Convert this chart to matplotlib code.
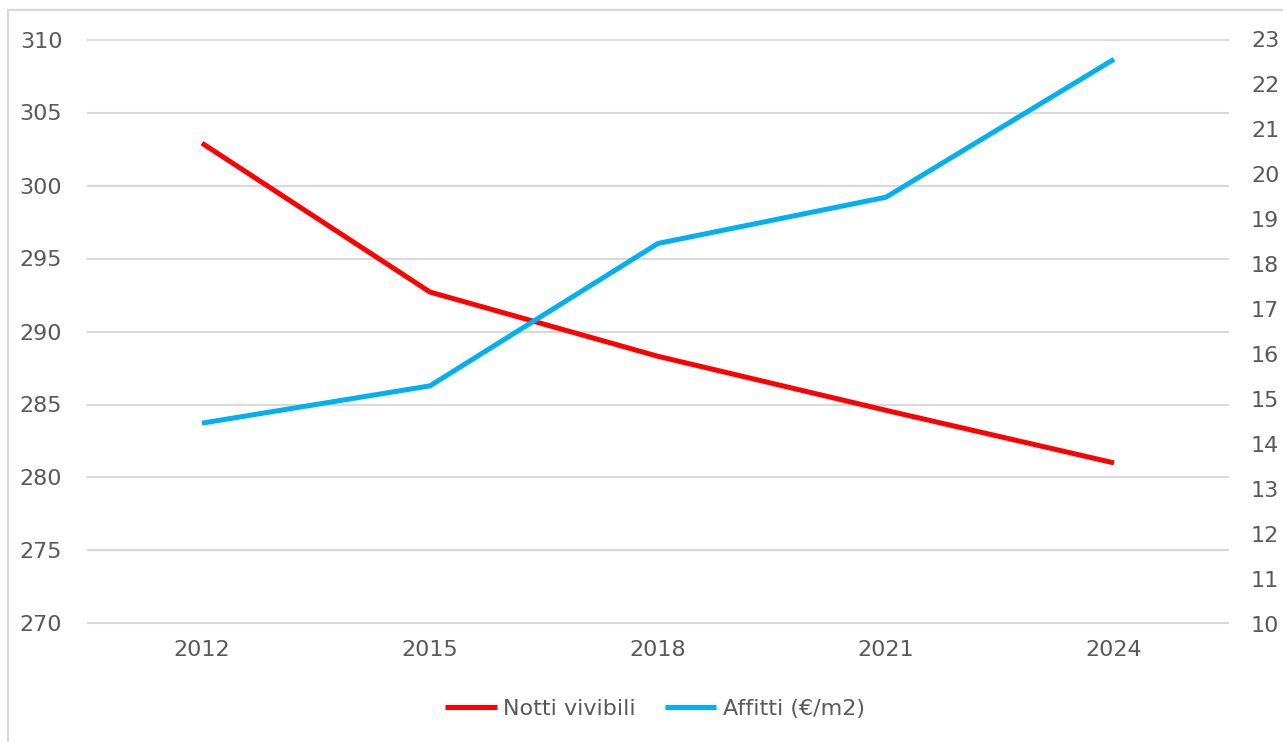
import matplotlib
matplotlib.use("Agg")
import matplotlib.pyplot as plt
from matplotlib.patches import Rectangle

years = ["2012", "2015", "2018", "2021", "2024"]
notti = [302.9, 292.7, 288.3, 284.6, 281.0]
affitti = [14.46, 15.29, 18.46, 19.49, 22.56]

red = "#ff0000"
blue = "#00b0f0"
txt = "#595959"
grid = "#d9d9d9"

plt.rcParams["font.family"] = ["DejaVu Sans"]

fig = plt.figure(figsize=(12.83, 7.42), dpi=100)
ax = fig.add_axes([88 / 1283, 1 - 623.5 / 742, (1228 - 88) / 1283, (623.5 - 39.5) / 742])
ax2 = ax.twinx()

x = range(len(years))
l1, = ax.plot(x, notti, color=red, lw=3.6, solid_capstyle="butt", label="Notti vivibili")
l2, = ax2.plot(x, affitti, color=blue, lw=3.6, solid_capstyle="butt", label="Affitti (€/m2)")

ax.set_xlim(-0.5, len(years) - 0.5)
ax.set_ylim(270, 310)
ax.set_yticks(range(270, 311, 5))
ax2.set_ylim(10, 23)
ax2.set_yticks(range(10, 24))
ax.set_xticks(list(x))
ax.set_xticklabels(years)

ax.grid(axis="y", color=grid, lw=1.5)
ax.set_axisbelow(True)
for gl in ax.get_ygridlines():
    gl.set_clip_on(False)
for a in (ax, ax2):
    for s in a.spines.values():
        s.set_visible(False)
ax.tick_params(axis="y", length=0, pad=18.5, labelsize=16, labelcolor=txt)
ax.tick_params(axis="x", length=0, pad=12, labelsize=16, labelcolor=txt)
ax2.tick_params(axis="y", length=0, pad=16.5, labelsize=16, labelcolor=txt)

fig.legend(handles=[l1, l2], loc="center", bbox_to_anchor=(655 / 1283, 1 - 709 / 742),
           ncol=2, frameon=False, fontsize=16, labelcolor=txt,
           handlelength=2.3, columnspacing=1.3, handletextpad=0.3)

fig.patches.append(Rectangle((8 / 1283, -0.1), 1.2, 1 - 10 / 742 + 0.1,
                             transform=fig.transFigure, fill=False,
                             edgecolor="#d9d9d9", lw=1.5))

fig.savefig("out.png", dpi=100)
